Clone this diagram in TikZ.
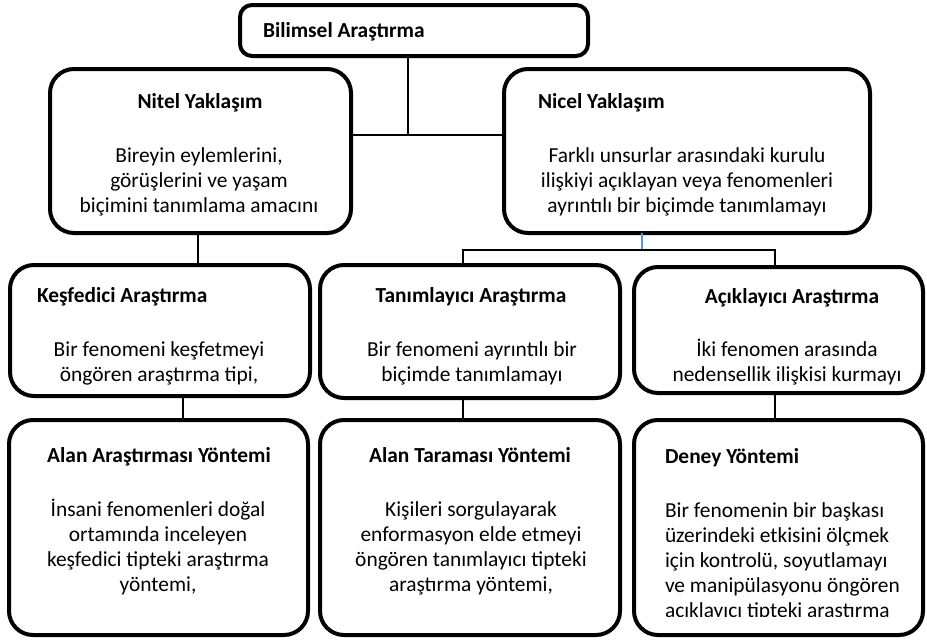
\documentclass[tikz,border=0pt]{standalone}
\usepackage{fontspec}
\setmainfont{Carlito}
\definecolor{linkblue}{HTML}{5B9BD5}
\newcommand{\ctrlines}[1]{\vtop{\baselineskip=25pt\lineskiplimit=-30pt\lineskip=0pt\halign{\hfil##\hfil\cr#1\crcr}}}
\newcommand{\leftlines}[1]{\vtop{\baselineskip=25pt\lineskiplimit=-30pt\lineskip=0pt\halign{##\hfil\cr#1\crcr}}}
\tikzset{
  x=1pt, y=-1pt,
  box/.style={draw, line width=4pt, rounded corners=24pt, inner sep=0pt, outer sep=0pt},
  topbox/.style={box, rounded corners=12pt},
  txt/.style={inner sep=0pt, outer sep=0pt, anchor=base, font=\fontsize{21.4}{25}\selectfont},
  hd/.style={txt, font=\fontsize{21.4}{25}\selectfont\bfseries},
  conn/.style={draw, line width=1.3pt},
  bconn/.style={draw=linkblue, line width=1.5pt}
}
\begin{document}
\begin{tikzpicture}
\useasboundingbox (0,0) rectangle (927,640);
% boxes
\node[topbox, minimum width=348pt, minimum height=51pt] (top) at (414,30.5) {};
\node[box, minimum width=301pt, minimum height=164pt] (nitel) at (200.5,151) {};
\node[box, minimum width=366pt, minimum height=164pt] (nicel) at (687,151) {};
\node[box, minimum width=300pt, minimum height=131pt] (kesf) at (160,330.5) {};
\node[box, minimum width=300pt, minimum height=133pt] (tanim) at (470,331.5) {};
\node[box, minimum width=289pt, minimum height=126pt] (acik) at (778.5,330) {};
\node[box, minimum width=299pt, minimum height=215pt] (alanar) at (158.5,527.5) {};
\node[box, minimum width=300pt, minimum height=215pt] (alantar) at (470,527.5) {};
\node[box, minimum width=289pt, minimum height=215pt] (deney) at (778.5,527.5) {};
% connectors
\coordinate (j1) at (408,135);
\draw[conn] (top.south -| j1) -- (j1);
\draw[conn] (nitel.east |- j1) -- (nicel.west |- j1);
\coordinate (j2) at (198,250);
\draw[conn] (nitel.south -| j2) -- (kesf.north -| j2);
\coordinate (b0) at (642,250);
\coordinate (b1) at (463,250);
\coordinate (b2) at (775,250);
\draw[bconn] (nicel.south -| b0) -- (b0);
\draw[conn] (tanim.north -| b1) -- (b1) -- (b2) -- (acik.north -| b2);
\coordinate (c1) at (183,410);
\coordinate (c2) at (463,410);
\coordinate (c3) at (775,410);
\draw[conn] (kesf.south -| c1) -- (alanar.north -| c1);
\draw[conn] (tanim.south -| c2) -- (alantar.north -| c2);
\draw[conn] (acik.south -| c3) -- (deney.north -| c3);
% texts
\node[hd, anchor=base west] (t0) at (263,37) {Bilimsel Araştırma};
\node[hd] (t1h) at (200,108) {Nitel Yaklaşım};
\node[txt] (t1b) at (199,162) {\ctrlines{Bireyin eylemlerini,\cr görüşlerini ve yaşam\cr biçimini tanımlama amacını}};
\node[hd, anchor=base west] (t2h) at (538,108) {Nicel Yaklaşım};
\node[txt] (t2b) at (687,162) {\ctrlines{Farklı unsurlar arasındaki kurulu\cr ilişkiyi açıklayan veya fenomenleri\cr ayrıntılı bir biçimde tanımlamayı}};
\node[hd, anchor=base west] (t3h) at (37,302) {Keşfedici Araştırma};
\node[txt] (t3b) at (159,356) {\ctrlines{Bir fenomeni keşfetmeyi\cr öngören araştırma tipi,}};
\node[hd] (t4h) at (471,302) {Tanımlayıcı Araştırma};
\node[txt] (t4b) at (472,356) {\ctrlines{Bir fenomeni ayrıntılı bir\cr biçimde tanımlamayı}};
\node[hd] (t5h) at (792,303) {Açıklayıcı Araştırma};
\node[txt] (t5b) at (787,356) {\ctrlines{İki fenomen arasında\cr nedensellik ilişkisi kurmayı}};
\node[hd] (t6h) at (159,462) {Alan Araştırması Yöntemi};
\node[txt] (t6b) at (158,516) {\ctrlines{İnsani fenomenleri doğal\cr ortamında inceleyen\cr keşfedici tipteki araştırma\cr yöntemi,}};
\node[hd] (t7h) at (470,462) {Alan Taraması Yöntemi};
\node[txt] (t7b) at (471,516) {\ctrlines{Kişileri sorgulayarak\cr enformasyon elde etmeyi\cr öngören tanımlayıcı tipteki\cr araştırma yöntemi,}};
\node[hd, anchor=base west] (t8h) at (665,463) {Deney Yöntemi};
\begin{scope}
\clip (634,420) rectangle (923,616);
\node[txt, anchor=base west] (t8b) at (665,517) {\leftlines{Bir fenomenin bir başkası\cr üzerindeki etkisini ölçmek\cr için kontrolü, soyutlamayı\cr ve manipülasyonu öngören\cr açıklayıcı tipteki araştırma}};
\end{scope}
\end{tikzpicture}
\end{document}
